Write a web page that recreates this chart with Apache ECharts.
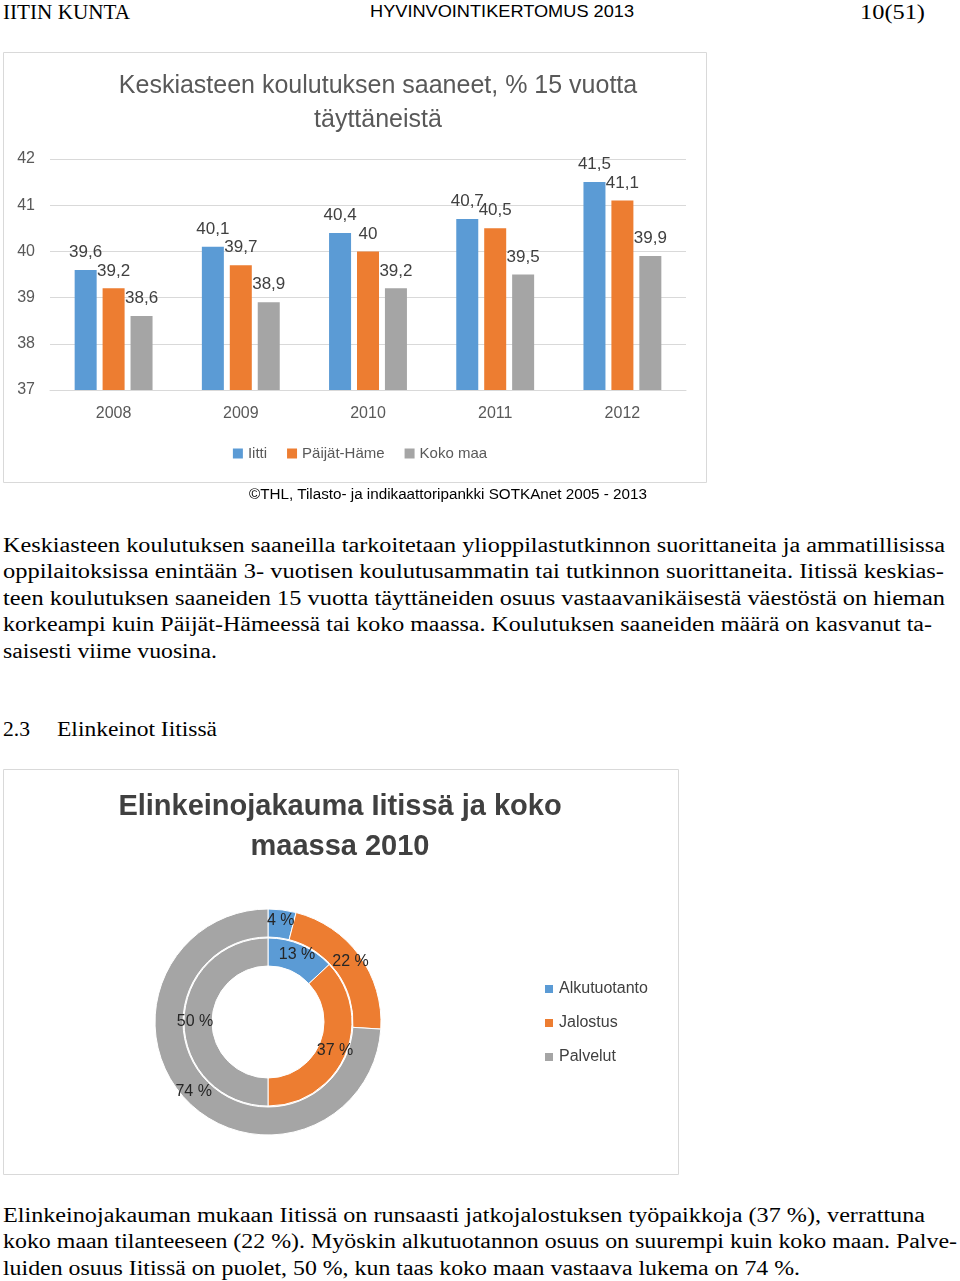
<!DOCTYPE html>
<html><head><meta charset="utf-8">
<script src="https://cdn.jsdelivr.net/npm/echarts@6/dist/echarts.min.js"></script>
<style>
html,body{margin:0;padding:0;background:#fff;width:960px;height:1281px;overflow:hidden;position:relative}
.t{position:absolute;white-space:nowrap;transform-origin:0 50%;color:#000;line-height:26px;height:26px}
.serif{font-family:'Liberation Serif','DejaVu Serif',serif}
.sans{font-family:'Liberation Sans Narrow','Liberation Sans','Open Sans',sans-serif}
#c1{position:absolute;left:0;top:50px;width:720px;height:440px}
#c2{position:absolute;left:0;top:760px;width:700px;height:425px}
</style></head><body>
<div id="c1"></div>
<div id="c2"></div>
<script>
// ---- data ----
const years = ['2008', '2009', '2010', '2011', '2012'];
const iitti = [39.6, 40.1, 40.4, 40.7, 41.5];
const paijatHame = [39.2, 39.7, 40, 40.5, 41.1];
const kokoMaa = [38.6, 38.9, 39.2, 39.5, 39.9];
const barSeriesNames = ['Iitti', 'Päijät-Häme', 'Koko maa'];
const sectors = ['Alkutuotanto', 'Jalostus', 'Palvelut'];
const iittiShares = [13, 37, 50];
const kokoMaaShares = [4, 22, 74];

// ---- page text ----
const lines = [
  ['IITIN KUNTA', 3, 12, 127, 21, 'serif'],
  ['HYVINVOINTIKERTOMUS 2013', 370, 12, 264, 17, 'sans'],
  ['10(51)', 860, 12, 65, 21, 'serif'],
  ['©THL, Tilasto- ja indikaattoripankki SOTKAnet 2005 - 2013', 249, 494, 398, 14, 'sans'],
  ['Keskiasteen koulutuksen saaneilla tarkoitetaan ylioppilastutkinnon suorittaneita ja ammatillisissa', 3, 545, 942, 20, 'serif'],
  ['oppilaitoksissa enintään 3- vuotisen koulutusammatin tai tutkinnon suorittaneita. Iitissä keskias-', 3, 571, 941, 20, 'serif'],
  ['teen koulutuksen saaneiden 15 vuotta täyttäneiden osuus vastaavanikäisestä väestöstä on hieman', 3, 598, 942, 20, 'serif'],
  ['korkeampi kuin Päijät-Hämeessä tai koko maassa. Koulutuksen saaneiden määrä on kasvanut ta-', 3, 624, 929, 20, 'serif'],
  ['saisesti viime vuosina.', 3, 651, 214, 20, 'serif'],
  ['2.3', 3, 729, 27, 21, 'serif'],
  ['Elinkeinot Iitissä', 57, 729, 160, 21, 'serif'],
  ['Elinkeinojakauman mukaan Iitissä on runsaasti jatkojalostuksen työpaikkoja (37 %), verrattuna', 3, 1215, 922, 20, 'serif'],
  ['koko maan tilanteeseen (22 %). Myöskin alkutuotannon osuus on suurempi kuin koko maan. Palve-', 3, 1241, 954, 20, 'serif'],
  ['luiden osuus Iitissä on puolet, 50 %, kun taas koko maan vastaava lukema on 74 %.', 3, 1268, 797, 20, 'serif']
];
lines.forEach(([txt, x, y, w, fs, cls]) => {
  const d = document.createElement('div');
  d.className = 't ' + cls;
  d.textContent = txt;
  d.style.left = x + 'px';
  d.style.top = (y - 13) + 'px';
  d.style.fontSize = fs + 'px';
  document.body.appendChild(d);
  const nat = d.getBoundingClientRect().width;
  d.style.transform = 'scaleX(' + (w / nat) + ')';
});

const blue = '#5B9BD5', orange = '#ED7D31', gray = '#A5A5A5';
const narrow = "'Liberation Sans Narrow', 'Liberation Sans', sans-serif";
const fmt = p => String(p.value).replace('.', ',');

// ---- chart 1 ----
const c1 = echarts.init(document.getElementById('c1'));
const barLabel = {show: true, position: 'top', distance: 9, formatter: fmt, fontSize: 17, color: '#404040', fontFamily: narrow};
c1.setOption({
  animation: false,
  textStyle: {fontFamily: narrow},
  color: [blue, orange, gray],
  graphic: [{type: 'rect', shape: {x: 3.5, y: 2.5, width: 703, height: 430}, style: {fill: 'none', stroke: '#d9d9d9', lineWidth: 1}}],
  title: {text: 'Keskiasteen koulutuksen saaneet, % 15 vuotta\ntäyttäneistä', left: 378, top: 19, textAlign: 'center', padding: 0,
    textStyle: {fontSize: 25, fontWeight: 'normal', color: '#595959', lineHeight: 34, fontFamily: narrow}},
  legend: {data: barSeriesNames, top: 391, left: 'center', itemWidth: 10, itemHeight: 10, itemGap: 20, icon: 'rect',
    textStyle: {fontSize: 15, color: '#595959', fontFamily: narrow}},
  grid: {left: 50, right: 34, top: 109, height: 231},
  xAxis: {type: 'category', data: years, axisLine: {lineStyle: {color: '#d9d9d9'}}, axisTick: {show: false},
    axisLabel: {fontSize: 16, color: '#595959', margin: 16}},
  yAxis: {type: 'value', min: 37, max: 42, interval: 1, axisLine: {show: false}, axisTick: {show: false},
    axisLabel: {fontSize: 16, color: '#595959', margin: 15}, splitLine: {lineStyle: {color: '#d9d9d9'}}},
  series: [
    {name: barSeriesNames[0], type: 'bar', data: iitti, barWidth: 22, barGap: '27%', label: barLabel},
    {name: barSeriesNames[1], type: 'bar', data: paijatHame, barWidth: 22, barGap: '27%', label: barLabel},
    {name: barSeriesNames[2], type: 'bar', data: kokoMaa, barWidth: 22, barGap: '27%', label: barLabel}
  ]
});

// ---- chart 2 ----
const c2 = echarts.init(document.getElementById('c2'));
const pieLabel = {show: true, position: 'inside', formatter: '{c} %', fontSize: 16, color: '#262626', fontFamily: narrow};
c2.setOption({
  animation: false,
  color: [blue, orange, gray],
  graphic: [{type: 'rect', shape: {x: 3.5, y: 9.5, width: 675, height: 405}, style: {fill: 'none', stroke: '#d9d9d9', lineWidth: 1}}],
  title: {text: 'Elinkeinojakauma Iitissä ja koko\nmaassa 2010', left: 340, top: 27, textAlign: 'center', padding: 0,
    textStyle: {fontSize: 29, fontWeight: 'bold', color: '#404040', lineHeight: 40, fontFamily: narrow}},
  legend: {orient: 'vertical', left: 543, top: 220, padding: 0, data: sectors, itemWidth: 10, itemHeight: 10, itemGap: 16, icon: 'rect',
    textStyle: {fontSize: 16, color: '#404040', lineHeight: 18, fontFamily: narrow}},
  series: [
    {name: 'Iitti', type: 'pie', center: [268, 262], radius: [56, 84], startAngle: 90, clockwise: true,
      data: sectors.map((s, i) => ({name: s, value: iittiShares[i]})), label: pieLabel, labelLine: {show: false},
      itemStyle: {borderColor: '#fff', borderWidth: 1}},
    {name: 'Koko maa', type: 'pie', center: [268, 262], radius: [85, 113], startAngle: 90, clockwise: true,
      data: sectors.map((s, i) => ({name: s, value: kokoMaaShares[i]})), label: pieLabel, labelLine: {show: false},
      itemStyle: {borderColor: '#fff', borderWidth: 1}}
  ]
});
</script>
</body></html>
